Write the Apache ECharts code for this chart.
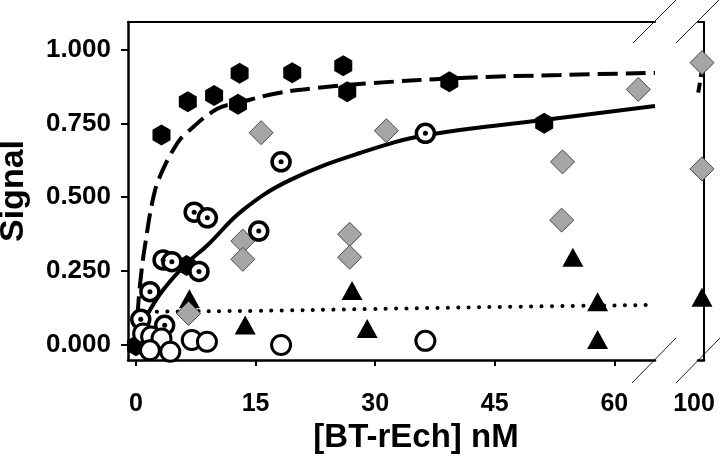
<!DOCTYPE html>
<html>
<head>
<meta charset="utf-8">
<script src="https://cdn.jsdelivr.net/npm/echarts@6/dist/echarts.min.js"></script>
<style>html,body{margin:0;padding:0;background:#fff}#c{width:720px;height:467px}</style>
</head>
<body>
<div id="c"></div>
<script>
// ---- data ----
const xTicks = [0, 15, 30, 45, 60];
const xBreakTicks = [100];
const yTicks = [0, 0.25, 0.5, 0.75, 1];

const hexagons = [[0,-0.005],[3.2,0.711],[6.5,0.824],[9.8,0.845],[13.0,0.921],[12.8,0.816],[19.6,0.923],[26.0,0.946],[26.5,0.858],[39.3,0.892],[51.2,0.751],[6.35,0.268]];
const bullseyes = [[7.3,0.449],[8.95,0.43],[15.4,0.385],[3.4,0.287],[4.5,0.281],[7.9,0.248],[1.75,0.179],[0.6,0.085],[3.6,0.065],[18.2,0.62],[36.3,0.717]];
const openCircles = [[0.9,0.037],[1.9,0.027],[3.2,0.02],[1.75,-0.02],[4.3,-0.025],[7.0,0.015],[8.9,0.009],[18.2,-0.002],[36.3,0.012]];
const diamonds = [[15.7,0.719],[13.4,0.351],[13.4,0.289],[26.8,0.374],[26.8,0.296],[6.6,0.105],[31.4,0.726],[63.0,0.866],[53.5,0.62],[53.4,0.422]];
const diamondsAt100 = [[100,0.957],[100,0.596]];
const triangles = [[6.7,0.155],[13.7,0.066],[27.1,0.183],[29.0,0.054],[54.8,0.296],[57.9,0.145],[57.9,0.017]];
const trianglesAt100 = [[100,0.16]];

const dashedFit = [[0,0],[0.3,0.14],[0.7,0.25],[1.1,0.33],[2.1,0.49],[3.0,0.57],[5.1,0.68],[6.4,0.72],[10.2,0.80],[12.8,0.82],[17.7,0.853],[22.7,0.871],[29.4,0.887],[40.7,0.905],[53.2,0.915],[65.1,0.922]];
const dashedFitAt100 = [[99.05,0.855],[99.5,0.89],[99.9,0.925],[100.3,0.94]];
const solidFit = [[0,0],[0.5,0.045],[1.5,0.105],[3.4,0.185],[6.4,0.276],[8.9,0.335],[13.4,0.456],[19.3,0.558],[28.1,0.65],[36.5,0.711],[51.1,0.762],[65.1,0.81]];
const dottedFit = [[0,0.108],[3,0.111],[15,0.114],[29,0.12],[45,0.127],[65,0.134]];

// ---- chart ----
const FONT = "'Liberation Sans', Arial, sans-serif";
const chart = echarts.init(document.getElementById('c'), null, {renderer: 'canvas'});
const YMIN = -0.053, YMAX = 1.095;
const hexPath = 'path://M0,-10L8.66,-5L8.66,5L0,10L-8.66,5L-8.66,-5Z';
const lineOnly = (w) => ({show: true, onZero: false, lineStyle: {color: '#000', width: w}});

chart.setOption({
  animation: false,
  backgroundColor: '#fff',
  grid: [
    {left: 128, right: 65, top: 22, bottom: 107, containLabel: false, outerBoundsMode: 'none'},
    {left: 698, right: 16, top: 22, bottom: 107, containLabel: false, outerBoundsMode: 'none'}
  ],
  xAxis: [
    {type: 'value', gridIndex: 0, position: 'bottom', min: -1, max: 65.1,
     axisLine: lineOnly(2.5), splitLine: {show: false},
     axisTick: {show: true, customValues: xTicks, length: 6, lineStyle: {color: '#000', width: 2}},
     axisLabel: {customValues: xTicks, margin: 32, color: '#000', fontSize: 25, fontWeight: 'bold', fontFamily: FONT},
     name: '[BT-rEch] nM', nameLocation: 'middle', nameGap: 61,
     nameTextStyle: {color: '#000', fontSize: 33, fontWeight: 'bold', fontFamily: FONT, padding: [0, 0, 0, 49]}},
    {type: 'value', gridIndex: 0, position: 'top', min: -1, max: 65.1,
     axisLine: lineOnly(2), axisTick: {show: false}, axisLabel: {show: false}, splitLine: {show: false}},
    {type: 'value', gridIndex: 1, position: 'bottom', min: 99, max: 100.5,
     axisLine: lineOnly(2.5), axisTick: {show: false}, splitLine: {show: false},
     axisLabel: {customValues: xBreakTicks, margin: 32, color: '#000', fontSize: 25, fontWeight: 'bold', fontFamily: FONT, padding: [0, 16, 0, 0]}},
    {type: 'value', gridIndex: 1, position: 'top', min: 99, max: 100.5,
     axisLine: lineOnly(2), axisTick: {show: false}, axisLabel: {show: false}, splitLine: {show: false}}
  ],
  yAxis: [
    {type: 'value', gridIndex: 0, position: 'left', min: YMIN, max: YMAX,
     axisLine: lineOnly(2.5), splitLine: {show: false},
     axisTick: {show: true, customValues: yTicks, length: 7, lineStyle: {color: '#000', width: 2}},
     axisLabel: {customValues: yTicks, margin: 17, color: '#000', fontSize: 26, fontWeight: 'bold', fontFamily: FONT,
                 formatter: v => v.toFixed(3)},
     name: 'Signal', nameLocation: 'middle', nameGap: 97, nameRotate: 90,
     nameTextStyle: {color: '#000', fontSize: 34, fontWeight: 'bold', fontFamily: FONT}},
    {type: 'value', gridIndex: 1, position: 'right', min: YMIN, max: YMAX,
     axisLine: lineOnly(2), axisTick: {show: false}, axisLabel: {show: false}, splitLine: {show: false}}
  ],
  series: [
    {type: 'line', xAxisIndex: 0, yAxisIndex: 0, data: dashedFit, smooth: 0.4, showSymbol: false, z: 2,
     lineStyle: {color: '#000', width: 4, type: [20, 8]}},
    {type: 'line', xAxisIndex: 2, yAxisIndex: 1, data: dashedFitAt100, smooth: 0.4, showSymbol: false, z: 2,
     lineStyle: {color: '#000', width: 4, type: [10, 6]}},
    {type: 'line', xAxisIndex: 0, yAxisIndex: 0, data: solidFit, smooth: 0.4, showSymbol: false, z: 2,
     lineStyle: {color: '#000', width: 4}},
    {type: 'line', xAxisIndex: 0, yAxisIndex: 0, data: dottedFit, smooth: 0.4, showSymbol: false, z: 2,
     lineStyle: {color: '#000', width: 4, type: [0.1, 10.3], cap: 'round'}},
    {type: 'scatter', xAxisIndex: 0, yAxisIndex: 0, data: hexagons, symbol: hexPath, symbolSize: [18, 21], z: 3,
     itemStyle: {color: '#000', opacity: 1}},
    {type: 'scatter', xAxisIndex: 0, yAxisIndex: 0, data: triangles, symbol: 'triangle', symbolSize: [21, 19], z: 4,
     itemStyle: {color: '#000', opacity: 1}},
    {type: 'scatter', xAxisIndex: 2, yAxisIndex: 1, data: trianglesAt100, symbol: 'triangle', symbolSize: [21, 19], z: 4, clip: false,
     itemStyle: {color: '#000', opacity: 1}},
    {type: 'scatter', xAxisIndex: 0, yAxisIndex: 0, data: diamonds, symbol: 'diamond', symbolSize: [24, 24], z: 5,
     itemStyle: {color: '#a6a6a6', borderColor: '#4a4a4a', borderWidth: 1, opacity: 1}},
    {type: 'scatter', xAxisIndex: 2, yAxisIndex: 1, data: diamondsAt100, symbol: 'diamond', symbolSize: [24, 24], z: 5, clip: false,
     itemStyle: {color: '#a6a6a6', borderColor: '#4a4a4a', borderWidth: 1, opacity: 1}},
    {type: 'scatter', xAxisIndex: 0, yAxisIndex: 0, data: bullseyes, symbol: 'circle', symbolSize: 18, z: 6,
     itemStyle: {color: '#fff', borderColor: '#000', borderWidth: 3.5, opacity: 1}},
    {type: 'scatter', xAxisIndex: 0, yAxisIndex: 0, data: bullseyes, symbol: 'circle', symbolSize: 5, z: 6,
     itemStyle: {color: '#000', opacity: 1}},
    {type: 'scatter', xAxisIndex: 0, yAxisIndex: 0, data: openCircles, symbol: 'circle', symbolSize: 19, z: 7,
     itemStyle: {color: '#fff', borderColor: '#000', borderWidth: 3, opacity: 1}}
  ],
  graphic: [
    {type: 'line', shape: {x1: 633, y1: 43, x2: 676, y2: 0}, style: {stroke: '#222', lineWidth: 1}},
    {type: 'line', shape: {x1: 676, y1: 43, x2: 719, y2: 0}, style: {stroke: '#222', lineWidth: 1}},
    {type: 'line', shape: {x1: 632, y1: 383, x2: 676, y2: 338}, style: {stroke: '#222', lineWidth: 1}},
    {type: 'line', shape: {x1: 676, y1: 383, x2: 720, y2: 338}, style: {stroke: '#222', lineWidth: 1}}
  ]
});
</script>
</body>
</html>
